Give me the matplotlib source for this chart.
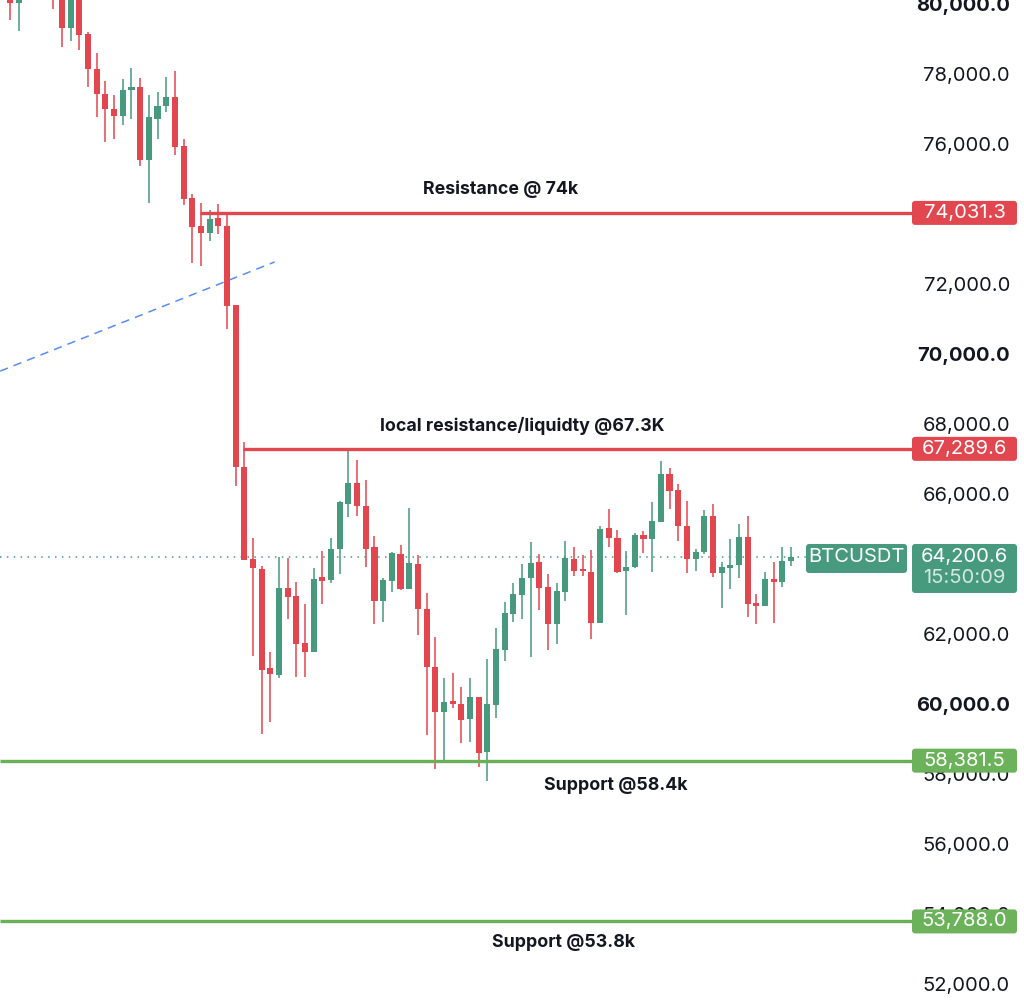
import matplotlib.pyplot as plt
import numpy as np
from matplotlib.patches import FancyBboxPatch

plt.rcParams['font.family'] = ['Inter', 'DejaVu Sans']

# BTCUSDT candles, left to right
opens = [80600, 80020, 80700, 81300, 80900, 80500, 80250, 79310, 80300, 79130,
         78140, 77430, 77010, 76810, 77540, 77620, 75530, 76710, 77090, 77330,
         75940, 74450, 73660, 73470, 73880, 73670, 71390, 66780, 64130, 63860,
         61030, 60830, 63310, 63090, 61740, 61500, 63630, 63540, 64420, 65710,
         66310, 65660, 64490, 62940, 63520, 64290, 63290, 64000, 62720, 61060,
         59780, 60090, 60000, 59560, 60190, 58620, 59970, 61540, 62560, 63120,
         63610, 64050, 63330, 62280, 63210, 64130, 63850, 63760, 62320, 65020,
         64750, 63810, 63920, 64840, 64710, 65210, 66560, 66110, 65090, 64130,
         64350, 65380, 63740, 63900, 63970, 64770, 62880, 62810, 63560, 63480,
         64090]
highs = [80900, 81000, 81600, 81500, 81100, 80700, 80400, 80500, 80450, 79210,
         78590, 77810, 77390, 77850, 78160, 77880, 77390, 77490, 77910, 78090,
         76130, 74570, 74320, 74110, 74280, 74020, 71400, 67490, 64730, 63950,
         61490, 64210, 64180, 63500, 62850, 63880, 64380, 64730, 65800, 67290,
         66970, 66400, 64800, 63610, 64350, 64540, 65590, 64260, 63180, 61910,
         60740, 60900, 60500, 60750, 60200, 61280, 62160, 62920, 63450, 63990,
         64640, 64280, 63720, 63450, 64670, 64480, 64260, 64400, 65090, 65560,
         64970, 64370, 64880, 64950, 65780, 66940, 66730, 66290, 65800, 64420,
         65540, 65710, 64070, 64710, 65130, 65370, 63140, 63760, 64050, 64490,
         64480]
lows = [79540, 79240, 80500, 80600, 80300, 79860, 78780, 78950, 78690, 77640,
        76760, 76070, 76150, 76530, 76720, 75380, 74310, 76130, 76920, 75680,
        74260, 72590, 72520, 73240, 73430, 70710, 66230, 64110, 61380, 59140,
        59490, 60740, 62430, 60780, 60760, 61490, 62850, 63450, 63710, 65350,
        65370, 63920, 62280, 62340, 63210, 63260, 63290, 61970, 59120, 58140,
        58320, 59880, 58900, 58910, 58210, 57810, 59590, 61240, 62340, 62430,
        61340, 62690, 61540, 61710, 62940, 63660, 63660, 61850, 62320, 64480,
        63750, 62540, 63900, 64310, 63780, 65210, 65560, 64670, 63730, 63800,
        64280, 63620, 62750, 63280, 63590, 62500, 62280, 62800, 62310, 63350,
        63950]
closes = [80040, 80700, 81300, 80900, 80500, 80250, 79310, 80300, 79120, 78140,
          77430, 77000, 76810, 77530, 77620, 75530, 76760, 77090, 77350, 75910,
          74440, 73620, 73470, 73860, 73670, 71380, 66780, 64110, 63880, 60970,
          60860, 63310, 63070, 61710, 61480, 63580, 63520, 64420, 65760, 66310,
          65660, 64440, 62940, 63540, 64320, 63290, 64020, 62720, 61060, 59780,
          60070, 59990, 59540, 60210, 58590, 60000, 61560, 62610, 63140, 63590,
          64020, 63310, 62280, 63220, 64160, 63810, 63810, 62310, 65000, 64750,
          63780, 63920, 64820, 64710, 65230, 66560, 66090, 65090, 64130, 64350,
          65370, 63750, 63920, 63970, 64770, 62860, 62810, 63560, 63480, 64090,
          64200.6]

symbol = 'BTCUSDT'
last_price = 64200.6
countdown = '15:50:09'

# drawn horizontal levels
levels = [74031.3, 67289.6, 58381.5, 53788.0]
level_start = [21.9, 26.85, -1.2, -1.2]
level_names = ['Resistance @ 74k', 'local resistance/liquidty @67.3K',
               'Support @58.4k', 'Support @53.8k']
level_kind = ['res', 'res', 'sup', 'sup']
label_x = [56.5, 59.0, 69.8, 63.8]
label_dy = [17.0, 16.6, -17.8, -15.4]

# blue dashed trend line (candle index, price)
trend_x = [-1.15, 30.5]
trend_p = [69510, 72630]

tick_prices = list(range(52000, 80001, 2000))

RED = '#E2474F'
GREEN = '#479A7E'
SUP = '#6AB056'
TXT = '#131722'
FS = 14.5

fig = plt.figure(figsize=(10.24, 10.02), dpi=100)
ax = fig.add_axes([0, 0, 912 / 1024, 1])
ax.set_xlim(-1.152, 103.94)
ax.set_ylim(51486, 80114)
for s in ax.spines.values():
    s.set_visible(False)
ax.set_xticks([])

# price scale
ax.yaxis.tick_right()
ax.set_yticks(tick_prices)
ax.set_yticklabels(['{:,.1f}'.format(p) for p in tick_prices])
ax.tick_params(axis='y', length=0, pad=70.5, labelsize=FS, labelcolor=TXT)
for p, lab in zip(tick_prices, ax.get_yticklabels()):
    lab.set_horizontalalignment('right')
    if p % 10000 == 0:
        lab.set_fontweight('bold')

# candles
o = np.array(opens)
c = np.array(closes)
h = np.array(highs)
l = np.array(lows)
x = np.arange(len(o))
cols = np.where(c >= o, GREEN, RED)
ax.vlines(x, l, h, colors=cols, lw=1.1, zorder=3)
body = np.maximum(np.abs(c - o), 45)
ax.bar(x, body, bottom=np.minimum(o, c), width=0.7, color=cols, zorder=4)

# last price dotted line
ax.hlines(last_price, -1.2, 91.7, colors=GREEN, lw=1.1,
          linestyles=(0, (1, 3.5)), zorder=2)

# trend line
ax.plot(trend_x, trend_p, color='#5B8DEE', lw=1.1,
        linestyle=(0, (5.5, 4)), zorder=2)

# horizontal levels and their notes
xmax = ax.get_xlim()[1]
for lev, x0, name, kind, lx, dy in zip(levels, level_start, level_names,
                                       level_kind, label_x, label_dy):
    col = RED if kind == 'res' else SUP
    ax.hlines(lev, x0, xmax, colors=col, lw=2.4, zorder=5)
    ax.annotate(name, xy=(lx, lev), xytext=(0, dy), textcoords='offset points',
                ha='center', va='center', fontsize=12.8, fontweight='bold',
                color=TXT, zorder=6)


def tag(price, x0, x1, top, bottom, color):
    # box in figure pixels, placed relative to the price's screen position
    yc = ax.transData.transform((0, price))[1]
    y0 = yc - bottom
    box = FancyBboxPatch((x0 / 1024, y0 / 1002), (x1 - x0) / 1024,
                         (top + bottom) / 1002,
                         boxstyle='round,pad=0,rounding_size=0.003',
                         transform=fig.transFigure, facecolor=color,
                         edgecolor='none', zorder=10)
    fig.add_artist(box)
    return yc


for lev, kind in zip(levels, level_kind):
    col = RED if kind == 'res' else '#6CB25A'
    yc = tag(lev, 912, 1017, 12, 12, col)
    fig.text(964.5 / 1024, yc / 1002, '{:,.1f}'.format(lev), color='white',
             ha='center', va='center', fontsize=FS, zorder=11)

yc = tag(last_price, 912, 1017, 13, 36, GREEN)
fig.text(964.5 / 1024, yc / 1002, '{:,.1f}'.format(last_price), color='white',
         ha='center', va='center', fontsize=FS, zorder=11)
fig.text(964.5 / 1024, (yc - 21) / 1002, countdown, color='#D5E9E2',
         ha='center', va='center', fontsize=FS, zorder=11)
tag(last_price, 806, 907, 13, 16, GREEN)
fig.text(856.5 / 1024, yc / 1002, symbol, color='white',
         ha='center', va='center', fontsize=FS, zorder=11)

fig.savefig('out.png', dpi=100, facecolor='white')
